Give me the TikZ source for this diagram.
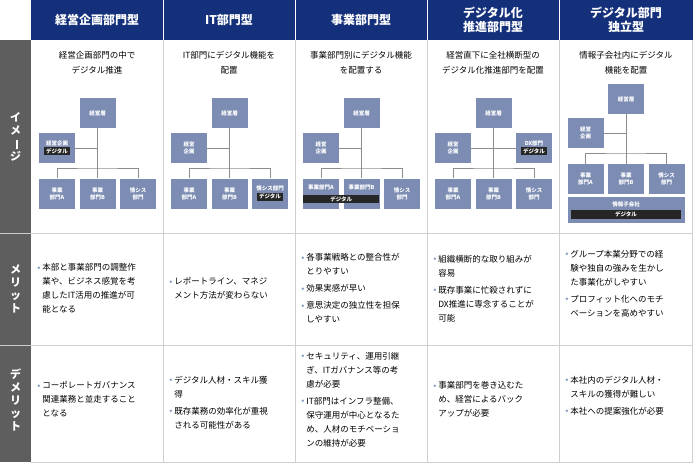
\documentclass[tikz,border=0pt]{standalone}
\usepackage{fontspec}
\setmainfont{Noto Sans CJK JP}
\usetikzlibrary{positioning, calc}
\definecolor{headnavy}{HTML}{14307A}
\definecolor{sidegray}{HTML}{5E5E5E}
\definecolor{orgblue}{HTML}{7C8CB2}
\definecolor{gridgray}{HTML}{CFCFCF}
\definecolor{linkgray}{HTML}{8C8C8C}
\definecolor{bulletblue}{HTML}{8A9CC4}
\newcommand{\bul}{\raisebox{1.5pt}{\textcolor{bulletblue}{\tiny$\bullet$}}}
\newcommand{\digtag}{{\setlength{\fboxsep}{1.5pt}\colorbox{black!85}{\,デジタル\,}}}

\begin{document}
\begin{tikzpicture}[
    x=1pt, y=-1pt,
    every node/.style={inner sep=0pt},
    head/.style={
        text=white,
        font=\fontsize{12}{14}\selectfont\bfseries,
        align=center
    },
    side/.style={
        text=white,
        font=\fontsize{11}{13}\selectfont\bfseries,
        align=center
    },
    desc/.style={
        font=\fontsize{8.5}{15}\selectfont,
        align=center
    },
    bodytext/.style={
        font=\fontsize{8.5}{14}\selectfont,
        anchor=west
    },
    org/.style={
        rectangle,
        fill=orgblue,
        minimum width=36pt,
        minimum height=30pt,
        text=white,
        align=center,
        font=\fontsize{5.5}{7}\selectfont\bfseries
    },
    tag/.style={
        rectangle,
        fill=black!85,
        text=white,
        inner xsep=2pt,
        inner ysep=1.5pt,
        font=\fontsize{5.5}{7}\selectfont\bfseries
    },
    link/.style={
        draw=linkgray,
        line width=0.8pt
    }
]

\useasboundingbox (0,0) rectangle (693,464);

% Frame
\fill[headnavy] (31,0) rectangle (693,40);
\fill[sidegray] (0,40) rectangle (31,462);
\foreach \x in {163,295,427,559}
    \draw[white, line width=0.8pt] (\x,0) -- (\x,40);
\foreach \x in {163,295,427,559,692}
    \draw[gridgray, line width=0.8pt] (\x,40) -- (\x,462);
\foreach \y in {233,345,462}
    \draw[gridgray, line width=0.8pt] (31,\y) -- (693,\y);
\foreach \y in {233,345}
    \draw[white!80!black, line width=0.8pt] (0,\y) -- (31,\y);

% Headers
\node[head] (h1) at (97,20) {経営企画部門型};
\node[head] (h2) at (229,20) {IT部門型};
\node[head] (h3) at (361,20) {事業部門型};
\node[head] (h4) at (493,20) {デジタル化\\推進部門型};
\node[head] (h5) at (626,20) {デジタル部門\\独立型};

% Side labels
\node[side] (simage) at (15.5,137) {イ\\メ\\\rotatebox[origin=c]{-90}{ー}\\ジ};
\node[side] (smerit) at (15.5,289) {メ\\リ\\ッ\\ト};
\node[side] (sdemerit) at (15.5,400) {デ\\メ\\リ\\ッ\\ト};

% Descriptions
\node[desc] (d1) at (97,63) {経営企画部門の中で\\デジタル推進};
\node[desc] (d2) at (229,63) {IT部門にデジタル機能を\\配置};
\node[desc] (d3) at (361,63) {事業部門別にデジタル機能\\を配置する};
\node[desc] (d4) at (493,63) {経営直下に全社横断型の\\デジタル化推進部門を配置};
\node[desc] (d5) at (626,63) {情報子会社内にデジタル\\機能を配置};

% Chart 1
\node[org] (a1top) at (97.5,113) {経営層};
\node[org] (a1plan) at (57,148) {経営企画\\[1pt]\digtag};
\node[org] (a1bizA) at (57,193.5) {事業\\部門A};
\node[org] (a1bizB) at (97.5,193.5) {事業\\部門B};
\node[org] (a1sys) at (138,193.5) {情シス\\部門};
\draw[link] (a1top) -- (a1bizB);
\draw[link] (a1plan.east) -- (a1plan.east -| a1top);
\draw[link] (a1bizA.north) |- (97.5,168) -| (a1sys.north);

% Chart 2
\node[org] (a2top) at (229.5,113) {経営層};
\node[org] (a2plan) at (189,148) {経営\\企画};
\node[org] (a2bizA) at (189,193.5) {事業\\部門A};
\node[org] (a2bizB) at (229.5,193.5) {事業\\部門B};
\node[org] (a2sys) at (270,193.5) {情シス部門\\[1pt]\digtag};
\draw[link] (a2top) -- (a2bizB);
\draw[link] (a2plan.east) -- (a2plan.east -| a2top);
\draw[link] (a2bizA.north) |- (229.5,168) -| (a2sys.north);

% Chart 3
\node[org, text depth=12pt] (a3bizA) at (321,193.5) {事業部門A};
\node[org, text depth=12pt] (a3bizB) at (361.5,193.5) {事業部門B};
\node[org] (a3top) at (361.5,113) {経営層};
\node[org] (a3plan) at (321,148) {経営\\企画};
\node[org] (a3sys) at (402,193.5) {情シス\\部門};
\node[tag, minimum width=76pt] (a3dig) at (341.25,199) {デジタル};
\draw[link] (a3top) -- (a3bizB);
\draw[link] (a3plan.east) -- (a3plan.east -| a3top);
\draw[link] (a3bizA.north) |- (361.5,168) -| (a3sys.north);

% Chart 4
\node[org] (a4top) at (493.5,113) {経営層};
\node[org] (a4plan) at (453,148) {経営\\企画};
\node[org] (a4dx) at (534,148) {DX部門\\[1pt]\digtag};
\node[org] (a4bizA) at (453,193.5) {事業\\部門A};
\node[org] (a4bizB) at (493.5,193.5) {事業\\部門B};
\node[org] (a4sys) at (534,193.5) {情シス\\部門};
\draw[link] (a4top) -- (a4bizB);
\draw[link] (a4plan.east) -- (a4dx.west);
\draw[link] (a4bizA.north) |- (493.5,168) -| (a4sys.north);

% Chart 5
\node[org] (a5top) at (626,99) {経営層};
\node[org] (a5plan) at (585.5,133) {経営\\企画};
\node[org] (a5bizA) at (585.5,179) {事業\\部門A};
\node[org] (a5bizB) at (626,179) {事業\\部門B};
\node[org] (a5sys) at (666.5,179) {情シス\\部門};
\node[org, minimum width=117pt, minimum height=26pt, text depth=11pt] (a5sub) at (626,210) {情報子会社};
\node[tag, minimum width=110pt] (a5dig) at (626,214.5) {デジタル};
\draw[link] (a5top) -- (a5bizB);
\draw[link] (a5plan.east) -- (a5plan.east -| a5top);
\draw[link] (a5bizA.north) |- (626,153) -| (a5sys.north);

% Merits
\node[bodytext] (m1) at (37,289) {\begin{tabular}{@{}l@{\,}l@{}}
\bul & 本部と事業部門の調整作\\ & 業や、ビジネス感覚を考\\ & 慮したIT活用の推進が可\\ & 能となる\end{tabular}};
\node[bodytext] (m2) at (169,289) {\begin{tabular}{@{}l@{\,}l@{}}
\bul & レポートライン、マネジ\\ & メント方法が変わらない\end{tabular}};
\node[bodytext] (m3) at (301,289) {\begin{tabular}{@{}l@{\,}l@{}}
\bul & 各事業戦略との整合性が\\ & とりやすい\\[3pt]
\bul & 効果実感が早い\\[3pt]
\bul & 意思決定の独立性を担保\\ & しやすい\end{tabular}};
\node[bodytext] (m4) at (433,289) {\begin{tabular}{@{}l@{\,}l@{}}
\bul & 組織横断的な取り組みが\\ & 容易\\[3pt]
\bul & 既存事業に忙殺されずに\\ & DX推進に専念することが\\ & 可能\end{tabular}};
\node[bodytext] (m5) at (565,284) {\begin{tabular}{@{}l@{\,}l@{}}
\bul & グループ本業分野での経\\ & 験や独自の強みを生かし\\ & た事業化がしやすい\\[3pt]
\bul & プロフィット化へのモチ\\ & ベーションを高めやすい\end{tabular}};

% Demerits
\node[bodytext] (n1) at (37,400) {\begin{tabular}{@{}l@{\,}l@{}}
\bul & コーポレートガバナンス\\ & 関連業務と並走すること\\ & となる\end{tabular}};
\node[bodytext] (n2) at (169,403) {\begin{tabular}{@{}l@{\,}l@{}}
\bul & デジタル人材・スキル獲\\ & 得\\[3pt]
\bul & 既存業務の効率化が重視\\ & される可能性がある\end{tabular}};
\node[bodytext] (n3) at (301,400) {\begin{tabular}{@{}l@{\,}l@{}}
\bul & セキュリティ、運用引継\\ & ぎ、ITガバナンス等の考\\ & 慮が必要\\[3pt]
\bul & IT部門はインフラ整備、\\ & 保守運用が中心となるた\\ & め、人材のモチベーショ\\ & ンの維持が必要\end{tabular}};
\node[bodytext] (n4) at (433,400) {\begin{tabular}{@{}l@{\,}l@{}}
\bul & 事業部門を巻き込むた\\ & め、経営によるバック\\ & アップが必要\end{tabular}};
\node[bodytext] (n5) at (565,396) {\begin{tabular}{@{}l@{\,}l@{}}
\bul & 本社内のデジタル人材・\\ & スキルの獲得が難しい\\[3pt]
\bul & 本社への提案強化が必要\end{tabular}};

\end{tikzpicture}
\end{document}
